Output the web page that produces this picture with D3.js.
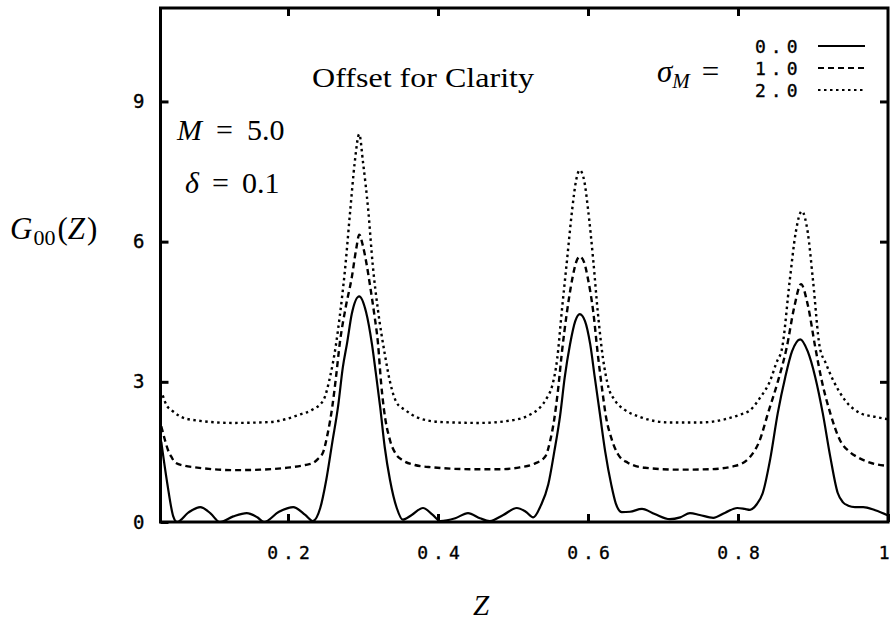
<!DOCTYPE html>
<html>
<head>
<meta charset="utf-8">
<script src="https://cdn.jsdelivr.net/npm/d3@7/dist/d3.min.js"></script>
<style>
body { margin: 0; background: #fff; }
.tick text { font-family: "DejaVu Sans Mono", monospace; font-size: 18px; stroke: #000; stroke-width: 0.35px; }
.serif { font-family: "Liberation Serif", "Times New Roman", serif; }
</style>
</head>
<body>
<svg class="chart"></svg>
<script>

// sigma_M values shown in the legend
var sigmaLabels = ["0.0", "1.0", "2.0"];

var xTicks = [0.2, 0.4, 0.6, 0.8, 1.0];
var xTickLabels = ["0.2", "0.4", "0.6", "0.8", "1"];
var yTicks = [0, 3, 6, 9];

// [Z, G00], sigma_M = 0.0 (solid)
var sigma0 = [[0.031,1.72],[0.039,0.83],[0.047,0.12],[0.052,0.0],[0.067,0.2],[0.083,0.32],[0.097,0.18],[0.109,0.0],
  [0.127,0.12],[0.145,0.19],[0.159,0.1],[0.168,0.0],[0.188,0.22],[0.207,0.32],[0.223,0.15],[0.233,0.02],
  [0.243,0.3],[0.251,0.9],[0.259,1.7],[0.267,2.5],[0.273,3.3],[0.279,3.85],[0.285,4.45],[0.295,4.83],
  [0.304,4.5],[0.312,3.8],[0.317,3.2],[0.323,2.45],[0.329,1.6],[0.336,0.9],[0.345,0.3],[0.353,0.05],
  [0.365,0.15],[0.38,0.3],[0.393,0.15],[0.403,0.02],[0.423,0.08],[0.44,0.19],[0.456,0.08],[0.469,0.02],
  [0.487,0.15],[0.505,0.3],[0.517,0.22],[0.527,0.1],[0.537,0.35],[0.547,0.8],[0.555,1.5],[0.563,2.3],
  [0.569,3.1],[0.576,3.8],[0.583,4.3],[0.589,4.45],[0.596,4.3],[0.603,3.8],[0.609,3.1],[0.616,2.3],
  [0.623,1.5],[0.631,0.8],[0.637,0.4],[0.645,0.21],[0.656,0.22],[0.672,0.28],[0.689,0.17],[0.709,0.06],
  [0.723,0.1],[0.736,0.19],[0.749,0.15],[0.767,0.09],[0.783,0.2],[0.799,0.3],[0.809,0.28],[0.816,0.26],
  [0.825,0.38],[0.833,0.62],[0.843,1.35],[0.853,2.33],[0.863,3.1],[0.872,3.65],[0.883,3.91],[0.893,3.65],
  [0.903,3.1],[0.913,2.33],[0.923,1.4],[0.933,0.62],[0.94,0.42],[0.947,0.35],[0.956,0.32],[0.967,0.32],
  [0.983,0.25],[1.0,0.14]];

// sigma_M = 1.0 (dashed), offset +1
var sigma1 = [[0.031,2.05],[0.036,1.75],[0.04,1.54],[0.045,1.38],[0.049,1.28],[0.063,1.2],[0.076,1.17],[0.127,1.11],
  [0.163,1.12],[0.203,1.17],[0.223,1.22],[0.233,1.26],[0.24,1.35],[0.247,1.5],[0.253,1.9],[0.259,2.46],
  [0.264,3.1],[0.269,3.82],[0.277,4.6],[0.285,5.23],[0.291,5.85],[0.295,6.15],[0.3,5.9],[0.305,5.5],
  [0.309,5.1],[0.315,4.45],[0.32,3.82],[0.324,3.0],[0.328,2.4],[0.336,1.75],[0.344,1.45],[0.353,1.32],
  [0.369,1.22],[0.393,1.17],[0.443,1.13],[0.483,1.13],[0.509,1.17],[0.529,1.25],[0.543,1.4],[0.549,1.7],
  [0.555,2.2],[0.56,2.82],[0.565,3.6],[0.572,4.5],[0.579,5.2],[0.584,5.55],[0.589,5.68],[0.595,5.55],
  [0.6,5.2],[0.607,4.5],[0.613,3.6],[0.619,2.82],[0.624,2.25],[0.631,1.8],[0.64,1.45],[0.653,1.27],
  [0.676,1.16],[0.723,1.12],[0.763,1.13],[0.796,1.2],[0.816,1.39],[0.829,1.75],[0.84,2.33],[0.853,3.0],
  [0.865,3.74],[0.875,4.6],[0.884,5.09],[0.893,4.65],[0.903,3.74],[0.912,3.0],[0.923,2.33],[0.936,1.75],
  [0.949,1.5],[0.959,1.39],[0.976,1.27],[1.0,1.2]];

// sigma_M = 2.0 (dotted), offset +2
var sigma2 = [[0.033,2.71],[0.038,2.5],[0.045,2.39],[0.067,2.2],[0.127,2.12],[0.176,2.14],[0.216,2.3],[0.232,2.4],
  [0.247,2.6],[0.256,3.1],[0.264,3.8],[0.269,4.4],[0.276,5.4],[0.283,6.67],[0.289,7.7],[0.295,8.3],
  [0.3,7.7],[0.307,6.67],[0.313,5.5],[0.32,4.53],[0.329,3.6],[0.336,3.0],[0.345,2.55],[0.356,2.4],
  [0.372,2.24],[0.403,2.14],[0.456,2.12],[0.496,2.17],[0.523,2.3],[0.536,2.45],[0.545,2.65],[0.552,2.9],
  [0.559,3.5],[0.565,4.5],[0.572,5.6],[0.579,6.7],[0.584,7.3],[0.589,7.53],[0.595,7.3],[0.6,6.7],
  [0.607,5.6],[0.613,4.5],[0.62,3.5],[0.627,2.9],[0.636,2.6],[0.649,2.4],[0.669,2.25],[0.709,2.13],
  [0.749,2.13],[0.783,2.2],[0.803,2.3],[0.816,2.39],[0.829,2.65],[0.843,3.03],[0.851,3.4],[0.859,3.74],
  [0.869,5.17],[0.877,6.2],[0.885,6.65],[0.893,6.2],[0.9,5.17],[0.909,3.74],[0.917,3.4],[0.927,3.03],
  [0.943,2.6],[0.963,2.33],[0.983,2.25],[1.0,2.2]];

var series = [sigma0, sigma1, sigma2];
var dashes = [null, "6,4", "2.5,3.5"];


var margin = {top: 8, right: 4, bottom: 98, left: 160.5}
    , width = 892 - margin.left - margin.right
    , height = 620 - margin.top - margin.bottom;

var x = d3.scaleLinear()
    .domain([0.03, 1.0])
    .range([0, width]);

var y = d3.scaleLinear()
    .domain([0, 11])
    .range([height, 0]);

var chart = d3.select('.chart')
    .attr('width', 892)
    .attr('height', 620);

var main = chart.append('g')
    .attr('transform', 'translate(' + margin.left + ',' + margin.top + ')');

main.append('clipPath').attr('id', 'clip')
  .append('rect').attr('width', width).attr('height', height);

// curves
var line = d3.line()
    .x(function(d) { return x(d[0]); })
    .y(function(d) { return y(d[1]); })
    .curve(d3.curveMonotoneX);

main.append('g').attr('clip-path', 'url(#clip)')
  .selectAll('path')
  .data(series)
  .enter().append('path')
    .attr('d', line)
    .attr('fill', 'none')
    .attr('stroke', '#000')
    .attr('stroke-width', function(d, i) { return i == 0 ? 2.2 : 2.4; })
    .attr('stroke-dasharray', function(d, i) { return dashes[i]; });

// axes: ticks point inward on all four sides
function styleAxis(g) {
  g.select('.domain').remove();
  g.selectAll('.tick line').attr('stroke', '#000').attr('stroke-width', 3);
}

var xb = main.append('g')
    .attr('transform', 'translate(0,' + height + ')')
    .call(d3.axisBottom(x).tickValues(xTicks)
      .tickFormat(function(d, i) { return xTickLabels[i]; })
      .tickSizeInner(-8).tickSizeOuter(0).tickPadding(24))
    .call(styleAxis);
xb.selectAll('text')
    .style('letter-spacing', '5px')
    .attr('dx', '2.5px');
xb.selectAll('.tick:last-child text')
    .style('letter-spacing', '0px')
    .attr('text-anchor', 'end')
    .attr('dx', '1px');

main.append('g')
    .call(d3.axisTop(x).tickValues(xTicks.slice(0, 4)).tickFormat('')
      .tickSizeInner(-8).tickSizeOuter(0))
    .call(styleAxis);

main.append('g')
    .call(d3.axisLeft(y).tickValues(yTicks)
      .tickSizeInner(-8).tickSizeOuter(0).tickPadding(16))
    .call(styleAxis)
    .selectAll('text').style('font-size', '19px');

main.append('g')
    .attr('transform', 'translate(' + width + ',0)')
    .call(d3.axisRight(y).tickValues(yTicks.slice(1)).tickFormat('')
      .tickSizeInner(-8).tickSizeOuter(0))
    .call(styleAxis);

main.append('rect')
    .attr('width', width)
    .attr('height', height)
    .attr('fill', 'none')
    .attr('stroke', '#000')
    .attr('stroke-width', 3);


// labels
var yl = chart.append('text').attr('class', 'serif')
    .attr('x', 10).attr('y', 239).style('font-size', '31px');
yl.append('tspan').style('font-style', 'italic').text('G');
yl.append('tspan').attr('dy', 6).attr('dx', 1).style('font-size', '22px').text('00');
yl.append('tspan').attr('dy', -6).attr('dx', 2).text('(');
yl.append('tspan').style('font-style', 'italic').text('Z');
yl.append('tspan').attr('dx', 2).text(')');

chart.append('text').attr('class', 'serif')
    .attr('x', 481).attr('y', 615)
    .style('text-anchor', 'middle')
    .style('font-size', '29px').style('font-style', 'italic')
    .text('Z');

chart.append('text').attr('class', 'serif')
    .attr('x', 312).attr('y', 87)
    .attr('textLength', 222)
    .attr('lengthAdjust', 'spacingAndGlyphs')
    .style('font-size', '28px')
    .text('Offset for Clarity');

var m = chart.append('text').attr('class', 'serif')
    .attr('x', 177).attr('y', 140).style('font-size', '30px');
m.append('tspan').style('font-style', 'italic').text('M');
m.append('tspan').attr('dx', 14).text('=');
m.append('tspan').attr('dx', 14).text('5.0');

var dl = chart.append('text').attr('class', 'serif')
    .attr('x', 185).attr('y', 193).style('font-size', '30px');
dl.append('tspan').style('font-style', 'italic').text('δ');
dl.append('tspan').attr('dx', 13).text('=');
dl.append('tspan').attr('dx', 13).text('0.1');

var sg = chart.append('text').attr('class', 'serif')
    .attr('x', 657).attr('y', 82).style('font-size', '31px');
sg.append('tspan').style('font-style', 'italic').text('σ');
sg.append('tspan').attr('dy', 6).style('font-size', '21px').style('font-style', 'italic').text('M');
sg.append('tspan').attr('dy', -6).attr('dx', 12).text('=');

// legend
var legend = chart.append('g').attr('transform', 'translate(755,0)');

legend.selectAll('text')
    .data(sigmaLabels)
    .enter().append('text')
    .attr('x', 0)
    .attr('y', function(d, i) { return 53 + i * 22; })
    .style('font-family', '"DejaVu Sans Mono", monospace')
    .style('font-size', '18px')
    .style('letter-spacing', '5px')
    .style('stroke', '#000').style('stroke-width', '0.35px')
    .text(function(d) { return d; });

legend.selectAll('line')
    .data(sigmaLabels)
    .enter().append('line')
    .attr('x1', 63).attr('x2', 110)
    .attr('y1', function(d, i) { return 46 + i * 22; })
    .attr('y2', function(d, i) { return 46 + i * 22; })
    .attr('stroke', '#000')
    .attr('stroke-width', function(d, i) { return i == 0 ? 2.2 : 2; })
    .attr('stroke-dasharray', function(d, i) { return dashes[i]; });

</script>
</body>
</html>
